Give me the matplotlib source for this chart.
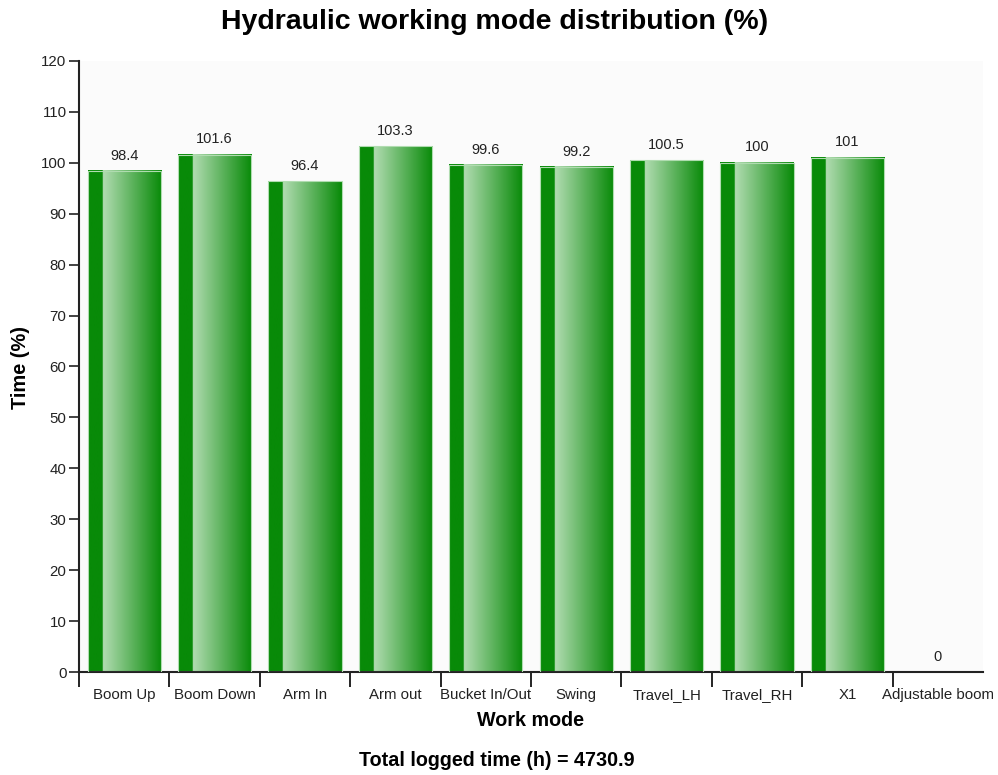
import numpy as np
import matplotlib
matplotlib.use("Agg")
import matplotlib.pyplot as plt
from matplotlib.colors import to_rgb
from matplotlib.transforms import blended_transform_factory, offset_copy

plt.rcParams["font.family"] = ["Liberation Sans", "DejaVu Sans"]

modes = ["Boom Up", "Boom Down", "Arm In", "Arm out", "Bucket In/Out",
         "Swing", "Travel_LH", "Travel_RH", "X1", "Adjustable boom"]
time_pct = [98.4, 101.6, 96.4, 103.3, 99.6, 99.2, 100.5, 100, 101, 0]
total_hours = 4730.9
yticks = list(range(0, 121, 10))

dark = np.array(to_rgb("#088a08"))
light = np.array(to_rgb("#b2dcb2"))

# horizontal shading: solid dark strip on the left, then light fading to dark
t = np.linspace(0, 1, 200)
grad = np.empty((1, t.size, 3))
for i, v in enumerate(t):
    if v < 0.2:
        grad[0, i] = dark
    else:
        f = (v - 0.2) / 0.8
        grad[0, i] = light * (1 - f) + dark * f

fig = plt.figure(figsize=(9.98, 7.75), dpi=100)
ax = fig.add_axes([0.0792, 0.1329, 0.9058, 0.7884])
ax.set_facecolor("#fbfbfb")

width = 0.81
x = np.arange(len(modes))
for xi, val in zip(x, time_pct):
    if val > 0:
        ax.imshow(grad, extent=(xi - width / 2, xi + width / 2, 0, val),
                  aspect="auto", interpolation="bilinear", zorder=2)
        ax.add_patch(plt.Rectangle((xi - width / 2, 0), width, val,
                                   fill=False, edgecolor="#b0dcb0", lw=0.8, zorder=3))
    ax.annotate("{:g}".format(val), (xi, val), xytext=(0, 6),
                textcoords="offset points", ha="center", va="bottom",
                fontsize=10.5, color="#222222")

ax.set_xlim(-0.5, len(modes) - 0.5)
ax.set_ylim(0, 120)
ax.set_yticks(yticks)
ax.tick_params(axis="y", length=7, width=1.2, labelsize=10.8, pad=2, colors="#222222")

# ticks at band edges, labels in band centres on a common baseline
ax.set_xticks(x - 0.5)
ax.set_xticklabels([])
ax.tick_params(axis="x", which="major", length=11, width=1.2)
trans = offset_copy(blended_transform_factory(ax.transData, ax.transAxes),
                    fig=fig, y=-27, units="dots")
for xi, name in zip(x, modes):
    ax.text(xi, 0, name, transform=trans, ha="center", va="baseline",
            fontsize=10.8, color="#222222")

for side in ("top", "right"):
    ax.spines[side].set_visible(False)
for side in ("left", "bottom"):
    ax.spines[side].set_linewidth(1.5)
    ax.spines[side].set_color("#222222")

fig.text(0.532, 1 - 721 / 775, "Work mode", ha="center", va="center",
         fontsize=14.2, fontweight="bold")
fig.text(20 / 998, 1 - 367 / 775, "Time (%)", ha="center", va="center",
         rotation=90, fontsize=14.4, fontweight="bold")

fig.text(0.496, 1 - 22 / 775, "Hydraulic working mode distribution (%)",
         ha="center", va="center", fontsize=20.5, fontweight="bold")
fig.text(0.498, 1 - 760 / 775, "Total logged time (h) = {}".format(total_hours),
         ha="center", va="center", fontsize=14.2, fontweight="bold")

fig.savefig("out.png", dpi=100)
